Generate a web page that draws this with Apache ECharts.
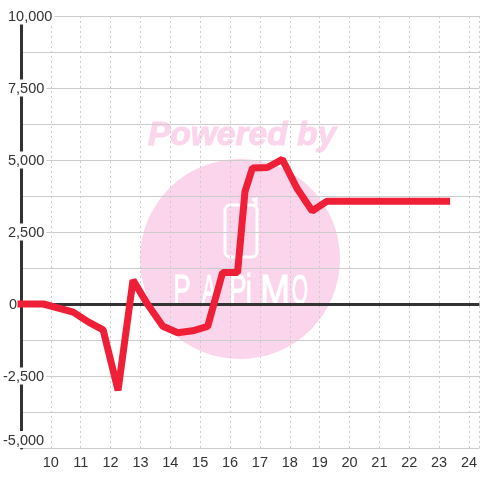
<!DOCTYPE html>
<html>
<head>
<meta charset="utf-8">
<style>
html, body { margin: 0; padding: 0; background: #fff; }
#main { width: 480px; height: 480px; }
</style>
<script src="https://cdn.jsdelivr.net/npm/echarts@6/dist/echarts.min.js"></script>
</head>
<body>
<div id="main"></div>
<script>
// hours on the x axis
var hours = [9, 9.75, 10.75, 11.25, 11.75, 12.25, 12.75, 13.25, 13.75, 14.25, 14.75, 15.25, 15.75, 16.25, 16.5, 16.75, 17.25, 17.75, 18.25, 18.75, 19.25, 23.25];
var values = [0, 0, -280, -620, -900, -3000, 830, -30, -770, -1000, -930, -780, 1090, 1090, 3900, 4720, 4740, 5020, 4000, 3230, 3570, 3570];

var fontName = '"Liberation Sans", Arial, sans-serif';
var logoLetters = ['P', 'A', 'P', 'i', 'M', 'O'];
var logoX = [182, 209, 238, 249, 275, 300];
var logoScale = [0.62, 0.5, 0.62, 0.62, 0.85, 0.5];

var pink = '#fbd5ec';
var graphics = [
	{ type: 'circle', z: -10, shape: { cx: 240, cy: 259, r: 100 }, style: { fill: pink } },
	{ type: 'text', z: -10, x: 242, y: 136, style: { text: 'Powered by', fill: pink, stroke: pink, lineWidth: 1, font: 'italic bold 33.5px ' + fontName, align: 'center', verticalAlign: 'middle' } },
	{ type: 'rect', z: -9, shape: { x: 225, y: 205, width: 32, height: 52, r: 5 }, style: { fill: 'none', stroke: '#fff', lineWidth: 3 } },
	{ type: 'polyline', z: -9, shape: { points: [[256, 206], [256, 199], [252, 200]] }, style: { fill: 'none', stroke: '#fff', lineWidth: 3 } }
];
for (var i = 0; i < logoLetters.length; i++) {
	graphics.push({ type: 'text', z: -9, x: logoX[i], y: 292, scaleX: logoScale[i], style: { text: logoLetters[i], fill: '#fff', stroke: '#fff', lineWidth: 1, font: '42px ' + fontName, align: 'center', verticalAlign: 'middle' } });
}

var chart = echarts.init(document.getElementById('main'), null, { renderer: 'canvas' });
chart.setOption({
	animation: false,
	backgroundColor: '#fff',
	graphic: graphics,
	grid: { left: 19.5, right: 0, top: 16, bottom: 32 },
	xAxis: {
		type: 'value',
		min: 9,
		max: 24.35,
		interval: 1,
		axisLine: { show: false },
		axisTick: { show: false },
		axisLabel: {
			color: '#333',
			fontFamily: fontName,
			fontSize: 14.5,
			margin: 7,
			showMinLabel: false,
			showMaxLabel: false,
			formatter: function (v) { return v === 9 || v > 24 ? '' : String(v); }
		},
		splitLine: { show: true, lineStyle: { color: '#ccc', type: [2, 3], width: 1 } }
	},
	yAxis: {
		type: 'value',
		min: -5000,
		max: 10000,
		interval: 2500,
		axisLine: { show: true, lineStyle: { color: '#333', width: 3 } },
		axisTick: { show: false },
		minorTick: { show: false, splitNumber: 2 },
		minorSplitLine: { show: true, lineStyle: { color: '#ccc', width: 1 } },
		splitLine: { show: true, lineStyle: { color: '#ccc', width: 1 } },
		axisLabel: {
			align: 'left',
			margin: 18,
			verticalAlignMinLabel: 'bottom',
			formatter: function (v) {
				var txt = echarts.format.addCommas(v);
				return '{' + (v < 0 ? 'neg' : v === 0 ? 'zero' : 'pos') + '|' + txt + '}';
			},
			rich: {
				pos: { padding: [0, 0, 0, 5], color: '#333', fontFamily: fontName, fontSize: 14.5 },
				zero: { padding: [0, 0, 0, 6], color: '#333', fontFamily: fontName, fontSize: 14.5 },
				neg: { color: '#333', fontFamily: fontName, fontSize: 14.5 }
			},
			backgroundColor: '#fff',
			padding: [2, 2, 0, 0]
		}
	},
	series: [
		{
			type: 'line',
			z: 3,
			silent: true,
			data: [],
			markLine: {
				silent: true,
				symbol: 'none',
				label: { show: false },
				lineStyle: { color: '#333', width: 3, type: 'solid' },
				data: [{ yAxis: 0 }]
			}
		},
		{
			type: 'line',
			z: 5,
			symbol: 'none',
			smooth: false,
			clip: false,
			lineStyle: { color: '#ee1f36', width: 7, join: 'bevel', cap: 'square' },
			data: hours.map(function (h, i) { return [h, values[i]]; })
		}
	]
});
</script>
</body>
</html>
